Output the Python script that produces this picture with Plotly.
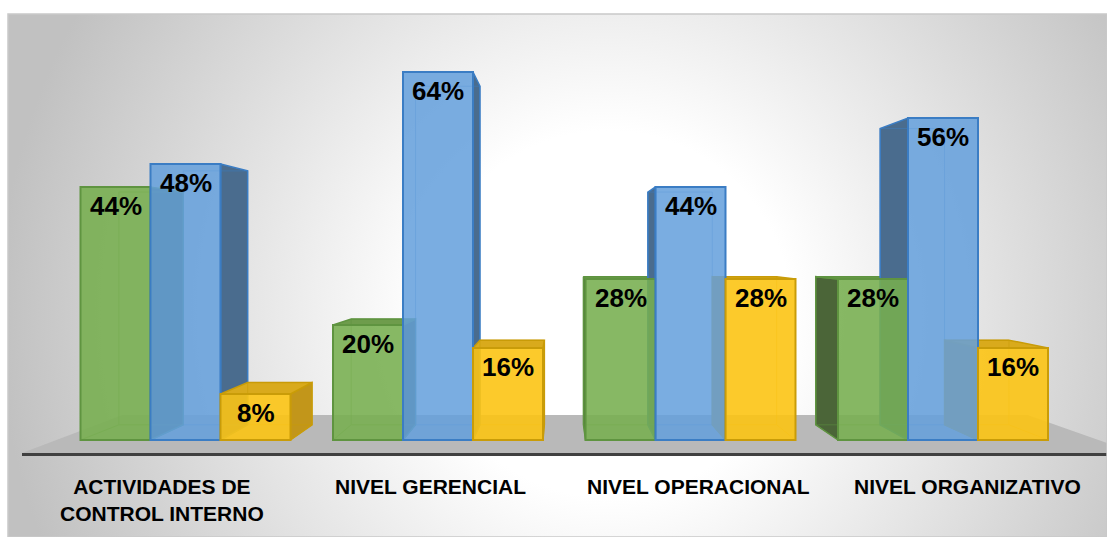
import base64
import plotly.graph_objects as go

# ---------------- data ----------------
categories = ["ACTIVIDADES DE<br>CONTROL INTERNO", "NIVEL GERENCIAL",
              "NIVEL OPERACIONAL", "NIVEL ORGANIZATIVO"]
green_vals = [44, 20, 28, 28]
blue_vals = [48, 64, 44, 56]
yellow_vals = [8, 16, 28, 16]

# ---------------- styling ----------------
series = [
    dict(vals=green_vals, front="rgba(118,174,78,0.88)", edge="#5f9440",
         side="#4b6538", top="#6e9c4c"),
    dict(vals=blue_vals, front="rgba(100,160,220,0.86)", edge="#3b7dc4",
         side="#4a6c8e", top="#5b8fc4"),
    dict(vals=yellow_vals, front="rgba(252,196,20,0.9)", edge="#c99c08",
         side="#c2961a", top="#d9aa1c"),
]
FONT = "Liberation Sans, Arial, sans-serif"

W, H = 1107, 537
ML, MT = 8, 14
BASE_PX, PX_PER_UNIT = 440.0, 5.75
G0_PX, G_STEP = 185.5, 252.5
BAR_W = 70.0 / G_STEP


def xd(px):
    return (px - G0_PX) / G_STEP


def yd(py):
    return (BASE_PX - py) / PX_PER_UNIT


VX, VY = xd(560), yd(250)   # vanishing point
K_BAR, K_FLOOR = 0.08, 0.187


def back(x, y, k):
    return x + k * (VX - x), y + k * (VY - y)


fig = go.Figure()

# floor
fl_front_y, fl_back_y = yd(453), yd(415)
fxl, fxr = xd(22), xd(1135)
bxl, _ = back(fxl, fl_front_y, K_FLOOR)
bxr, _ = back(fxr, fl_front_y, K_FLOOR)
fig.add_trace(go.Scatter(x=[fxl, fxr, bxr, bxl, fxl],
                         y=[fl_front_y, fl_front_y, fl_back_y, fl_back_y, fl_front_y],
                         mode="lines", fill="toself", fillcolor="#b9b9b9",
                         line=dict(width=0), hoverinfo="skip", showlegend=False))

# depth faces (sides, tops, back edges) on the lower subplot
for si, s in enumerate(series):
    off = (si - 1) * BAR_W
    for gi, v in enumerate(s["vals"]):
        xl = gi + off - BAR_W / 2
        xr = gi + off + BAR_W / 2
        xlb, yb0 = back(xl, 0, K_BAR)
        xrb, _ = back(xr, 0, K_BAR)
        _, ybt = back(xl, v, K_BAR)
        if xr < VX:
            px_, py_ = [xr, xr, xrb, xrb, xr], [0, v, ybt, yb0, 0]
        elif xl > VX:
            px_, py_ = [xl, xl, xlb, xlb, xl], [0, v, ybt, yb0, 0]
        else:
            px_ = None
        if px_:
            fig.add_trace(go.Scatter(x=px_, y=py_, mode="lines", fill="toself",
                                     fillcolor=s["side"],
                                     line=dict(color=s["edge"], width=1.5),
                                     hoverinfo="skip", showlegend=False))
        if v < VY:
            fig.add_trace(go.Scatter(x=[xl, xr, xrb, xlb, xl], y=[v, v, ybt, ybt, v],
                                     mode="lines", fill="toself", fillcolor=s["top"],
                                     line=dict(color=s["edge"], width=1.5),
                                     hoverinfo="skip", showlegend=False))
        # back-face outline (seen through the transparent front)
        fig.add_trace(go.Scatter(
            x=[xlb, xlb, xrb, xrb, xlb, None, xl, xlb, None, xr, xrb],
            y=[ybt, yb0, yb0, ybt, ybt, None, 0, yb0, None, 0, yb0],
            mode="lines", line=dict(color=s["edge"], width=1), opacity=0.5,
            hoverinfo="skip", showlegend=False))

# front faces on the overlaying subplot (drawn above the depth faces)
for si, s in enumerate(series):
    off = (si - 1) * BAR_W
    xs = [gi + off for gi in range(len(categories))]
    fig.add_trace(go.Bar(
        x=xs, y=s["vals"], width=BAR_W, xaxis="x2", yaxis="y2",
        marker=dict(color=s["front"], line=dict(color=s["edge"], width=2)),
        hoverinfo="skip", showlegend=False))
    for x, v in zip(xs, s["vals"]):
        fig.add_annotation(x=x, y=v, xref="x2", yref="y2", text=f"<b>{v}%</b>",
                           showarrow=False, xanchor="center", yanchor="top", yshift=-2,
                           font=dict(family=FONT, size=26, color="black"))

# category labels (placed along the perspective floor front)
for gi, c in enumerate(categories):
    fig.add_annotation(x=VX + (gi - VX) * 1.064, y=yd(473), text=f"<b>{c}</b>",
                       showarrow=False, xanchor="center", yanchor="top", align="center",
                       font=dict(family=FONT, size=21, color="black"))

# dark front edge of floor
fig.add_shape(type="line", x0=xd(22), x1=xd(1107), y0=yd(454.5), y1=yd(454.5),
              line=dict(color="#404040", width=3))

pw, ph = W - ML, H - MT
svg = f"""<svg xmlns='http://www.w3.org/2000/svg' width='{pw}' height='{ph}' viewBox='0 0 {pw} {ph}' preserveAspectRatio='none'>
<defs><radialGradient id='g' gradientUnits='userSpaceOnUse' cx='600' cy='300' r='610'>
<stop offset='0' stop-color='#ffffff'/><stop offset='0.3' stop-color='#ffffff'/>
<stop offset='1' stop-color='#c1c1c1'/></radialGradient></defs>
<rect x='0' y='0' width='{pw}' height='{ph}' fill='url(#g)'/></svg>"""
src = "data:image/svg+xml;base64," + base64.b64encode(svg.encode()).decode()
fig.add_layout_image(source=src, xref="paper", yref="paper", x=0, y=1, sizex=1, sizey=1,
                     xanchor="left", yanchor="top", sizing="stretch", layer="below")
fig.add_shape(type="rect", xref="paper", yref="paper", x0=0, x1=1, y0=0, y1=1,
              line=dict(color="#c9c9c9", width=1.5), layer="above")

xr_ = [xd(ML), xd(W)]
yr_ = [yd(H), yd(MT)]
fig.update_layout(
    width=W, height=H, margin=dict(l=ML, r=0, t=MT, b=0),
    paper_bgcolor="white", plot_bgcolor="rgba(0,0,0,0)",
    barmode="overlay",
    xaxis=dict(range=xr_, visible=False, fixedrange=True),
    yaxis=dict(range=yr_, visible=False, fixedrange=True),
    xaxis2=dict(range=xr_, visible=False, fixedrange=True, overlaying="x"),
    yaxis2=dict(range=yr_, visible=False, fixedrange=True, overlaying="y"),
)
fig.write_html("out.html")
